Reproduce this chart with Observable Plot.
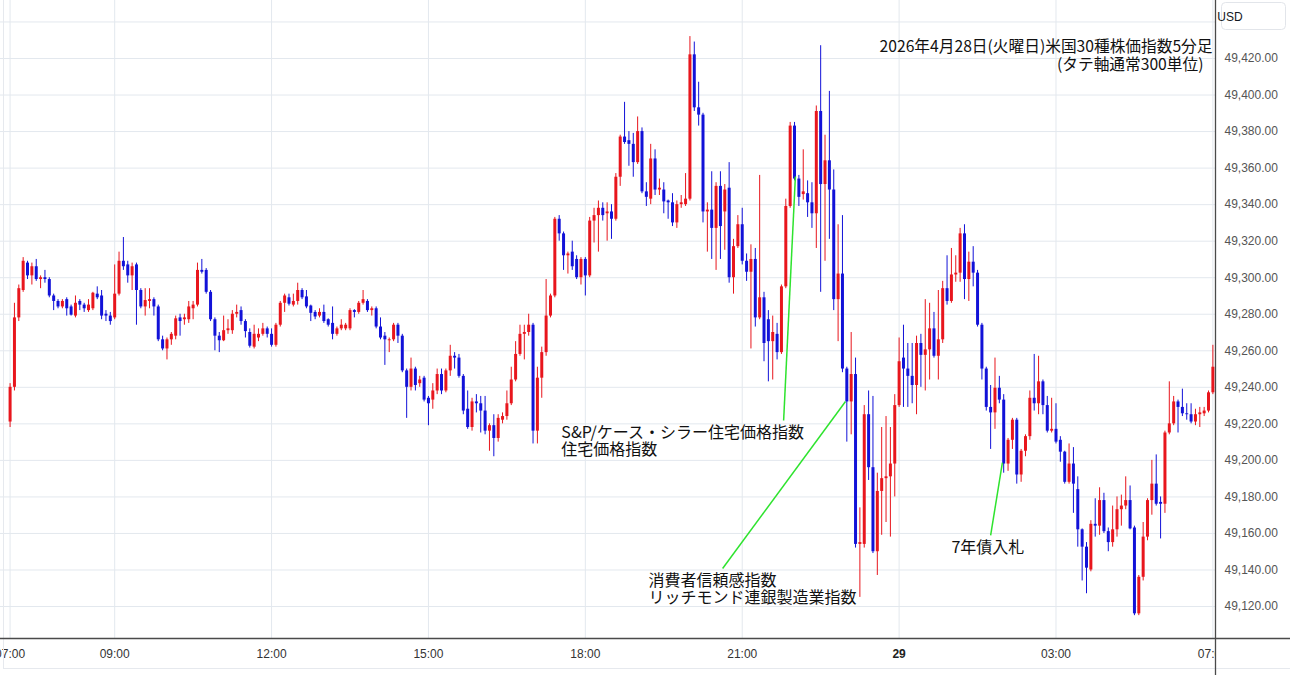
<!DOCTYPE html>
<html><head><meta charset="utf-8">
<script src="https://cdn.jsdelivr.net/npm/d3@7"></script>
<script src="https://cdn.jsdelivr.net/npm/@observablehq/plot@0.6"></script>
<style>
html,body{margin:0;padding:0;background:#fff;}
#chart{position:relative;width:1290px;height:675px;overflow:hidden;}
</style></head><body><div id="chart"></div>
<script>
// 5-minute candles, [open, high, low, close], one per bar from 07:00 (Apr 28)
const ohlc = [
[49221,49242,49218,49240],[49240,49286,49238,49278],[49278,49296,49276,49294],[49293,49311,49292,49309],[49308,49309,49299,49301],
[49301,49308,49296,49306],[49306,49310,49298,49299],[49299,49301,49294,49300],[49300,49304,49297,49299],[49299,49300,49289,49290],
[49290,49291,49282,49287],[49287,49288,49283,49284],[49284,49288,49283,49287],[49288,49289,49279,49283],[49284,49285,49279,49279.5],
[49279,49290,49278,49286],[49287,49288,49282,49285],[49285,49286,49281,49283],[49282,49288,49281,49285],[49283,49292,49282,49291.5],
[49291,49295,49288,49289],[49290,49293,49277,49279],[49280,49282,49276,49279],[49279,49281,49274,49276],[49278,49307,49277,49291],
[49291,49314,49290,49309],[49309,49322,49304,49306],[49307,49309,49297,49301],[49301,49308,49293,49306],[49307,49308,49274,49293],
[49293,49294,49283,49284],[49284,49294,49279,49287.5],[49287,49294,49283,49288],[49288,49289,49279,49284],[49284,49285,49265,49266],
[49266,49268,49260,49261],[49261,49267,49255,49266],[49266,49270,49263,49269],[49268,49279,49266,49277.5],[49278,49280,49268,49276],
[49277,49280,49274,49278],[49277,49287,49275,49284],[49283,49287,49277,49285],[49285,49308,49284,49304],[49304,49310,49302,49303],
[49304,49305,49291,49292],[49292,49293,49276,49277],[49277,49278,49260,49268],[49268,49270,49259,49265.5],[49265.5,49279,49265,49271],
[49271,49277,49269,49272],[49271,49282,49269,49280],[49280,49285,49278,49281],[49282,49284,49274,49276],[49276,49277,49267,49270.5],
[49270,49272,49261.5,49262.5],[49262,49274,49261,49269],[49267,49272,49265,49269],[49269,49275,49268,49272],[49272,49273,49267,49269],
[49269,49272,49262,49263],[49263,49275,49262,49274],[49274,49287,49273,49286],[49286,49291,49281,49290],[49289,49291,49284.5,49285.5],
[49285,49291,49284,49287],[49287,49297,49285,49293],[49293,49294,49288,49289],[49289.5,49293,49283,49284],[49284.5,49285,49276,49280.5],
[49281,49282,49277,49278.5],[49279,49283,49278,49281],[49281,49285,49275,49276],[49277,49277.5,49273,49274],[49275,49284,49266,49269],
[49269,49273,49268,49272],[49272,49277,49271,49274],[49272,49275,49271,49274],[49272,49283,49271,49282],[49282,49282.5,49278,49281],
[49281,49287,49280,49286],[49286,49293,49285,49288],[49287,49288,49281,49282],[49282,49284,49279,49283],[49283,49284,49272,49273],
[49273,49278,49266,49267],[49268,49270,49252,49266],[49265.5,49267,49259,49266],[49266,49275,49265,49274],[49274,49275,49264,49268],
[49268,49269,49248,49249],[49249,49250,49223,49240],[49240,49256,49238,49250],[49250,49251,49238,49241],[49242,49246,49240,49244],
[49245,49246,49232,49233],[49234,49235,49219,49231],[49233,49242,49228,49238],[49238,49250,49236,49247],[49247,49250,49236,49238],
[49238,49250,49237,49249],[49249,49263,49246,49257],[49257,49259,49250,49256],[49256,49258,49245,49246],[49246,49247,49225,49227],
[49228,49238,49217,49218],[49218,49234,49216,49232],[49232,49236,49226,49231],[49231,49235,49215,49227],[49227,49235,49214,49216],
[49216,49220,49205,49219],[49219,49225,49202,49212],[49212,49225,49210,49223],[49222,49226,49220,49224],[49224,49238,49222,49231],
[49231,49251,49230,49244],[49244,49265,49243,49258],[49258,49274,49257,49269],[49269,49274,49255,49270],[49270,49280,49268,49274],
[49274,49275,49209,49216],[49216,49251,49209,49245],[49245,49262,49234,49259],[49259,49299,49257,49279],[49279,49291,49278,49290],
[49290,49333,49289,49332],[49332,49334,49320,49324],[49324,49325,49304,49312],[49312,49314,49302,49313],[49314,49320,49304,49306],
[49310,49312,49299,49300],[49300,49311,49296,49310],[49310,49311,49290,49301],[49301,49333,49300,49331],[49331,49338,49319,49334],
[49334,49342,49314,49338],[49338,49341,49331,49334],[49335,49341,49320,49336],[49336,49340,49321,49332],[49332,49357,49331,49355],
[49355,49378,49350,49377],[49377,49396,49373,49374],[49375,49380,49361,49373],[49373,49379,49355,49363],[49363,49388,49362,49380],
[49380,49382,49346,49347],[49347,49352,49339,49344],[49343,49373,49340,49365],[49365,49370,49345,49348],[49348,49354,49345,49349],
[49348,49352,49335,49341.5],[49342,49342.5,49332,49341],[49341,49346,49328,49330],[49330,49342,49327,49340],[49340,49345,49338,49341],
[49340,49357,49339,49343],[49343,49432,49342,49422],[49422,49429,49391,49393],[49393,49407,49383,49389],[49389,49390,49330,49336],
[49336,49341,49314,49337],[49337,49358,49310,49327],[49327,49352,49304,49350],[49350,49358,49310,49328],[49336,49351,49315,49348],
[49349,49363,49297,49300],[49300,49321,49291,49317],[49317,49334,49316,49329],[49329,49338,49307,49309],[49309,49313,49298,49303],
[49303,49318,49261,49310],[49310,49316,49273,49278],[49278,49356,49277,49289],[49289,49292,49254,49264],[49277,49282,49243,49265],
[49265,49279,49244,49270],[49269,49275,49255,49259],[49259,49296,49258,49295],[49295,49343,49294,49339],[49339,49385,49338,49383],
[49383,49385,49353,49354],[49354,49356,49339,49344],[49345.5,49370,49342.5,49347],[49346,49353,49333,49341],[49341,49352,49327,49335],
[49335,49394,49316,49391],[49391,49427,49292,49351],[49351,49378,49309,49364],[49364,49402,49321,49348],[49348,49359,49282,49288],
[49288,49329,49265,49302],[49302,49334,49248,49250],[49250,49251,49210,49232],[49232,49270,49214,49247],[49247,49256,49152,49154],
[49154,49174,49125,49155],[49154,49230,49152,49225],[49225,49238,49189,49196],[49196,49235,49149,49150],[49150,49193,49137,49183],
[49183,49218,49159,49190],[49190,49224,49166,49191],[49191,49218,49158,49198],[49198,49236,49180,49230],[49230,49267,49229,49254],
[49256,49274,49229,49250],[49250,49264,49229,49246],[49246,49264,49231,49241],[49241,49268,49225,49264],[49264,49269,49240,49257.5],
[49257.5,49288,49238,49260.5],[49260.5,49286,49244,49272],[49272,49281,49256,49257],[49257,49293,49244,49266],[49266,49298,49264,49294],
[49294,49312,49285,49287],[49287,49316,49286,49301.5],[49301.5,49312,49297.5,49302.5],[49302.5,49327,49297.5,49324],[49324,49329,49288,49299],
[49299,49314,49287,49308.5],[49308.5,49317,49295,49302.5],[49302.5,49304,49273,49274],[49274,49275,49244,49250],[49250,49251,49227,49229],
[49229,49241,49206,49226],[49226,49256,49217,49239.5],[49239.5,49246,49231,49233],[49233,49236,49193,49198],[49198,49212,49194,49211],
[49211,49223,49206,49222],[49222,49223,49187,49192],[49192,49206,49188,49205],[49205,49214,49202,49213],[49213,49238,49211,49234],
[49234,49258,49227,49231],[49231,49257,49225,49243],[49243,49244,49225,49230],[49230,49235,49215,49216],[49216,49234,49215,49217],
[49217,49231,49209,49210],[49211,49213,49199,49204.5],[49204.5,49205,49187,49188],[49188,49209,49187,49198],[49198,49207,49171,49187],
[49184,49191,49152.5,49162],[49162,49162.5,49134,49152.5],[49152.5,49155,49127,49141],[49140,49167,49139,49165],[49165,49179,49158,49164],
[49164,49185,49159,49178],[49178,49182,49160,49161],[49161,49163,49150,49155],[49155,49175,49152.5,49162],[49162,49180,49158,49173],
[49173,49181,49164,49175],[49175,49191,49173,49178],[49178,49186,49162,49162.5],[49163,49164,49115,49116],[49116,49137,49115,49136],
[49136,49166,49134,49158],[49158,49179,49156,49178],[49178,49200,49170,49187],[49187,49203,49175,49176],[49177,49180,49157,49176],
[49176,49216,49171,49215],[49215,49243,49214,49220],[49220,49235,49219,49232],[49232,49233,49215,49229],[49229,49239,49224,49225.5],
[49225.5,49231,49222,49225],[49225,49231,49220,49221],[49221,49228,49219,49225],[49225,49229,49218,49226],[49225.5,49229,49224,49227],
[49227,49238,49226,49237],[49237,49263,49236,49251]
];

// time axis: bar index of each labelled tick and its label
const timeTickIndex = [0, 24, 60, 96, 132, 168, 204, 240, 276];
const timeTickLabels = ["07:00", "09:00", "12:00", "15:00", "18:00", "21:00", "29", "03:00", "07:00"];

// price axis
const priceTicks = d3.range(49120, 49421, 20);
const priceGrid = d3.range(49120, 49441, 20);

// title lines
const titleLines = ["2026年4月28日(火曜日)米国30種株価指数5分足", "(タテ軸通常300単位)"];

// event annotations: text, anchor bar index, anchor price
const noteTexts = ["S&P/ケース・シラー住宅価格指数\n住宅価格指数", "消費者信頼感指数\nリッチモンド連銀製造業指数", "7年債入札"];
const noteIndex = [126.5, 146.5, 216.0];
const notePrice = [49210.6, 49129.6, 49152.3];

// leader lines: [index1, price1, index2, price2]
const leaderLines = [
  [177.5, 49221.8, 180.2, 49355.4],
  [163.5, 49140.8, 191.7, 49232.2],
  [225.0, 49158.9, 227.7, 49198.8]
];

const RED = "#e8161d", BLUE = "#1212d8", GRID = "#e3e8ee";
const W = 1290, H = 675, MR = 75, MB = 37;
const xDomain = [-2.2, 276.6];
const yDomain = [49102.5, 49451.75];

const candles = ohlc.map(([o, h, l, c], i) => ({i, o, h, l, c, col: c >= o ? RED : BLUE}));
const ticks = timeTickIndex.map((i, k) => ({i, label: timeTickLabels[k]}));
const notes = noteTexts.map((t, k) => ({t, i: noteIndex[k], p: notePrice[k]}));
const links = leaderLines.map(([x1, y1, x2, y2]) => ({x1, y1, x2, y2}));
const JP = "'Noto Sans CJK JP', sans-serif";

const svg = Plot.plot({
  width: W, height: H,
  marginLeft: 0, marginRight: MR, marginTop: 0, marginBottom: MB,
  style: {fontFamily: "'Liberation Sans', Arial, sans-serif", fontSize: "12px", background: "#fff"},
  x: {type: "linear", domain: xDomain, axis: null},
  y: {domain: yDomain, axis: null},
  color: {type: "identity"},
  marks: [
    Plot.gridY(priceGrid, {stroke: GRID, strokeOpacity: 1}),
    Plot.gridX(timeTickIndex, {stroke: GRID, strokeOpacity: 1}),
    Plot.ruleX(candles, {x: "i", y1: "l", y2: "h", stroke: "col", strokeWidth: 1}),
    Plot.ruleX(candles, {x: "i", y1: "o", y2: "c", stroke: "col", strokeWidth: 3}),
    Plot.axisY(priceTicks, {anchor: "right", tickSize: 0, tickPadding: 9,
      tickFormat: d3.format(",.2f"), color: "#555", fontSize: 12}),
    Plot.text(ticks.filter(d => d.label !== "29"), {x: "i", text: "label", frameAnchor: "bottom",
      dy: 16, lineAnchor: "middle", fill: "#333", fontSize: 12, ariaLabel: "time-labels"}),
    Plot.text(ticks.filter(d => d.label === "29"), {x: "i", text: "label", frameAnchor: "bottom",
      dy: 16, lineAnchor: "middle", fill: "#222", fontSize: 12, fontWeight: "bold", ariaLabel: "time-labels"}),
    Plot.link(links, {x1: "x1", y1: "y1", x2: "x2", y2: "y2", stroke: "#2ee32e", strokeWidth: 1.5}),
    Plot.text(notes, {x: "i", y: "p", text: "t", textAnchor: "start", lineAnchor: "middle",
      fontSize: 16, lineHeight: 1.06, fill: "#111", fontFamily: JP}),
    Plot.text([titleLines[0]], {frameAnchor: "top-right", dx: -3, dy: 46, textAnchor: "end", lineAnchor: "middle",
      fontSize: 15.7, fill: "#111", fontFamily: JP}),
    Plot.text([titleLines[1]], {frameAnchor: "top-right", dx: -12, dy: 64, textAnchor: "end", lineAnchor: "middle",
      fontSize: 15.7, fill: "#111", fontFamily: JP})
  ]
});

// chart chrome: clip time labels at the price scale, axis lines, USD badge
const s = d3.select(svg);
const plotRight = W - MR, plotBottom = H - MB;
s.append("defs").append("clipPath").attr("id", "tclip").attr("clipPathUnits", "userSpaceOnUse")
  .append("rect").attr("x", -50).attr("y", -100).attr("width", plotRight + 50).attr("height", H + 200);
s.selectAll('[aria-label="time-labels"]').each(function() {
  const g = this.tagName.toLowerCase() === "g" ? this : this.parentNode;
  g.setAttribute("clip-path", "url(#tclip)");
});
s.append("rect").attr("x", plotRight + 1).attr("y", plotBottom + 1).attr("width", MR).attr("height", MB - 8)
  .attr("fill", "#fff");
s.append("line").attr("x1", 3.5).attr("x2", 3.5).attr("y1", 0).attr("y2", 668)
  .attr("stroke", "#e6e9ee");
s.append("line").attr("x1", 3).attr("x2", W).attr("y1", 668.5).attr("y2", 668.5)
  .attr("stroke", "#e6e9ee");
s.append("line").attr("x1", 0).attr("x2", W).attr("y1", plotBottom + 0.5).attr("y2", plotBottom + 0.5)
  .attr("stroke", "#4a4a4a").attr("stroke-width", 1.3);
s.append("line").attr("x1", plotRight + 0.5).attr("x2", plotRight + 0.5).attr("y1", 0).attr("y2", H)
  .attr("stroke", "#4a4a4a").attr("stroke-width", 1.3);
const usd = s.append("g");
usd.append("rect").attr("x", 1221.5).attr("y", 2.5).attr("width", 64).attr("height", 27).attr("rx", 4)
  .attr("fill", "#fff").attr("stroke", "#e2e5ea");
usd.append("text").attr("x", 1230).attr("y", 20.5).attr("font-size", 12).attr("fill", "#131722")
  .text("USD");

document.getElementById("chart").appendChild(svg);
</script>
</body></html>
